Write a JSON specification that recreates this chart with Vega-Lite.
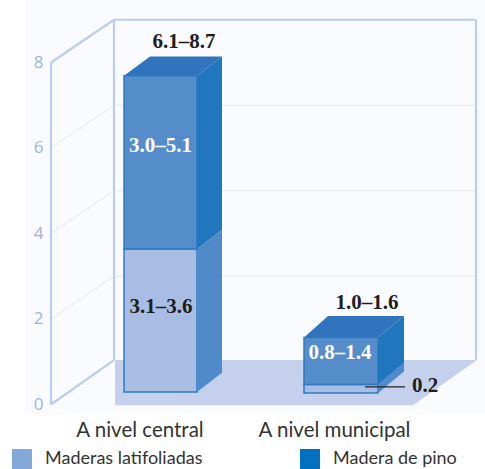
{"$schema":"https://vega.github.io/schema/vega-lite/v6.json","autosize":{"type":"fit","contains":"padding"},"width":485,"height":469,"padding":0,"background":"white","config":{"view":{"stroke":null}},
"resolve":{"scale":{"color":"independent"}},
"datasets":{
"suelo":[{"x":2.5,"y":-0.22,"y2":9.46},{"x":48.5,"y":-0.22,"y2":9.46}],
"piso":[{"x":11.5,"y":-0.02,"y2":1.04},{"x":41.3,"y":-0.02,"y2":1.04},{"x":47.7,"y":1.04,"y2":1.04}],
"lineas":[
{"linea":"g6","tipo":"rejilla","x":5.1,"y":6},{"linea":"g6","tipo":"rejilla","x":11.4,"y":7},{"linea":"g6","tipo":"rejilla","x":47.6,"y":7},
{"linea":"g4","tipo":"rejilla","x":5.1,"y":4},{"linea":"g4","tipo":"rejilla","x":11.4,"y":5},{"linea":"g4","tipo":"rejilla","x":47.6,"y":5},
{"linea":"g2","tipo":"rejilla","x":5.1,"y":2},{"linea":"g2","tipo":"rejilla","x":11.4,"y":3},{"linea":"g2","tipo":"rejilla","x":47.6,"y":3},
{"linea":"a","tipo":"pared","x":5.1,"y":0},{"linea":"a","tipo":"pared","x":5.1,"y":8},
{"linea":"b","tipo":"pared","x":5.1,"y":8},{"linea":"b","tipo":"pared","x":11.4,"y":9},
{"linea":"c","tipo":"pared","x":5.1,"y":0},{"linea":"c","tipo":"pared","x":11.4,"y":1.04},
{"linea":"d","tipo":"pared","x":11.4,"y":1.04},{"linea":"d","tipo":"pared","x":11.4,"y":9},
{"linea":"e","tipo":"pared","x":11.4,"y":9},{"linea":"e","tipo":"pared","x":47.6,"y":9},
{"linea":"f","tipo":"pared","x":47.6,"y":9},{"linea":"f","tipo":"pared","x":47.6,"y":1.04}
],
"barras":[
{"nivel":"A nivel central","tipo":"Maderas latifoliadas","x0":12.4,"x1":19.7,"y0":0.29,"y1":3.64},
{"nivel":"A nivel central","tipo":"Madera de pino","x0":12.4,"x1":19.7,"y0":3.64,"y1":7.69},
{"nivel":"A nivel municipal","tipo":"Maderas latifoliadas","x0":30.4,"x1":37.8,"y0":0.27,"y1":0.47},
{"nivel":"A nivel municipal","tipo":"Madera de pino","x0":30.4,"x1":37.8,"y0":0.47,"y1":1.57}
],
"caras":[
{"cara":"c-lat","tono":"lateral claro","x":19.7,"y":0.29,"y2":3.64},{"cara":"c-lat","tono":"lateral claro","x":22.2,"y":0.74,"y2":4.09},
{"cara":"c-pin","tono":"lateral","x":19.7,"y":3.64,"y2":7.69},{"cara":"c-pin","tono":"lateral","x":22.2,"y":4.09,"y2":8.14},
{"cara":"c-sup","tono":"superior","x":12.4,"y":7.69,"y2":7.69},{"cara":"c-sup","tono":"superior","x":15.0,"y":7.69,"y2":8.14},{"cara":"c-sup","tono":"superior","x":19.7,"y":7.69,"y2":8.14},{"cara":"c-sup","tono":"superior","x":22.2,"y":8.14,"y2":8.14},
{"cara":"m-lat","tono":"lateral claro","x":37.8,"y":0.27,"y2":0.47},{"cara":"m-lat","tono":"lateral claro","x":40.4,"y":0.77,"y2":0.97},
{"cara":"m-pin","tono":"lateral","x":37.8,"y":0.47,"y2":1.57},{"cara":"m-pin","tono":"lateral","x":40.4,"y":0.97,"y2":2.07},
{"cara":"m-sup","tono":"superior","x":30.4,"y":1.57,"y2":1.57},{"cara":"m-sup","tono":"superior","x":32.8,"y":1.57,"y2":2.07},{"cara":"m-sup","tono":"superior","x":37.8,"y":1.57,"y2":2.07},{"cara":"m-sup","tono":"superior","x":40.4,"y":2.07,"y2":2.07}
],
"guia":[{"x":36.5,"y":0.41},{"x":40.5,"y":0.41}],
"rotulos":[
{"t":"6.1–8.7","c":"negro","x":18.4,"y":8.48},{"t":"3.1–3.6","c":"negro","x":16.1,"y":2.29},{"t":"1.0–1.6","c":"negro","x":36.7,"y":2.37},{"t":"0.2","c":"negro","x":42.5,"y":0.43},
{"t":"3.0–5.1","c":"blanco","x":16.05,"y":6.05},{"t":"0.8–1.4","c":"blanco","x":34.0,"y":1.2}
],
"niveles":[{"t":"A nivel central","x":14.0,"y":-0.63},{"t":"A nivel municipal","x":33.45,"y":-0.63}]
},
"layer":[
{"data":{"name":"suelo"},"mark":{"type":"area","color":"#fafbfe"},"encoding":{"x":{"field":"x","type":"quantitative","scale":{"domain":[0,48.5],"nice":false,"zero":false},"axis":null},"y":{"field":"y","type":"quantitative","scale":{"domain":[-1.509,9.462],"nice":false,"zero":false},"axis":{"values":[0,2,4,6,8],"offset":-46,"zindex":1,"domain":false,"ticks":false,"grid":false,"title":null,"labelColor":"#9db4e0","labelFontSize":17,"labelFont":"Open Sans","labelPadding":3,"labelFontWeight":"normal"}},"y2":{"field":"y2"}}},
{"data":{"name":"piso"},"mark":{"type":"area","color":"#c5d0ec"},"encoding":{"x":{"field":"x","type":"quantitative"},"y":{"field":"y","type":"quantitative"},"y2":{"field":"y2"}}},
{"data":{"name":"lineas"},"mark":{"type":"line","strokeWidth":2.2},"encoding":{"x":{"field":"x","type":"quantitative"},"y":{"field":"y","type":"quantitative"},"detail":{"field":"linea"},"color":{"field":"tipo","type":"nominal","legend":null,"scale":{"domain":["pared","rejilla"],"range":["#bccdef","#f0f3fb"]}}}},
{"data":{"name":"barras"},"mark":{"type":"bar"},"encoding":{"x":{"field":"x0","type":"quantitative"},"x2":{"field":"x1"},"y":{"field":"y0","type":"quantitative"},"y2":{"field":"y1"},"color":{"field":"tipo","type":"nominal","scale":{"domain":["Maderas latifoliadas","Madera de pino"],"range":["#84a8d8","#0070c0"]},"legend":{"title":null,"orient":"none","legendX":12,"legendY":449,"columns":2,"columnPadding":97,"symbolType":"square","symbolSize":400,"symbolStrokeWidth":0,"labelFont":"Lato","labelFontSize":18,"labelColor":"#333333","labelOffset":13,"labelLimit":200,"padding":0,"rowPadding":0}}}},
{"data":{"name":"barras"},"mark":{"type":"bar","stroke":"#2a7cc6","strokeWidth":1.5},"encoding":{"x":{"field":"x0","type":"quantitative"},"x2":{"field":"x1"},"y":{"field":"y0","type":"quantitative"},"y2":{"field":"y1"},"color":{"field":"tipo","type":"nominal","legend":null,"scale":{"domain":["Maderas latifoliadas","Madera de pino"],"range":["#a9bce3","#558cca"]}}}},
{"data":{"name":"caras"},"mark":{"type":"area"},"encoding":{"x":{"field":"x","type":"quantitative"},"y":{"field":"y","type":"quantitative"},"y2":{"field":"y2"},"detail":{"field":"cara"},"color":{"field":"tono","type":"nominal","legend":null,"scale":{"domain":["lateral claro","lateral","superior"],"range":["#508ac9","#2176be","#2f74bd"]}}}},
{"data":{"name":"guia"},"mark":{"type":"line","color":"#222222","strokeWidth":1.3},"encoding":{"x":{"field":"x","type":"quantitative"},"y":{"field":"y","type":"quantitative"}}},
{"data":{"name":"rotulos"},"mark":{"type":"text","font":"Liberation Serif","fontWeight":"bold","fontSize":21,"baseline":"middle","align":"center"},"encoding":{"x":{"field":"x","type":"quantitative"},"y":{"field":"y","type":"quantitative"},"text":{"field":"t"},"color":{"field":"c","type":"nominal","legend":null,"scale":{"domain":["negro","blanco"],"range":["#1e1e1e","#ffffff"]}}}},
{"data":{"name":"niveles"},"mark":{"type":"text","font":"Lato","fontSize":20.5,"baseline":"middle","align":"center","color":"#333333"},"encoding":{"x":{"field":"x","type":"quantitative"},"y":{"field":"y","type":"quantitative"},"text":{"field":"t"}}}
]}
